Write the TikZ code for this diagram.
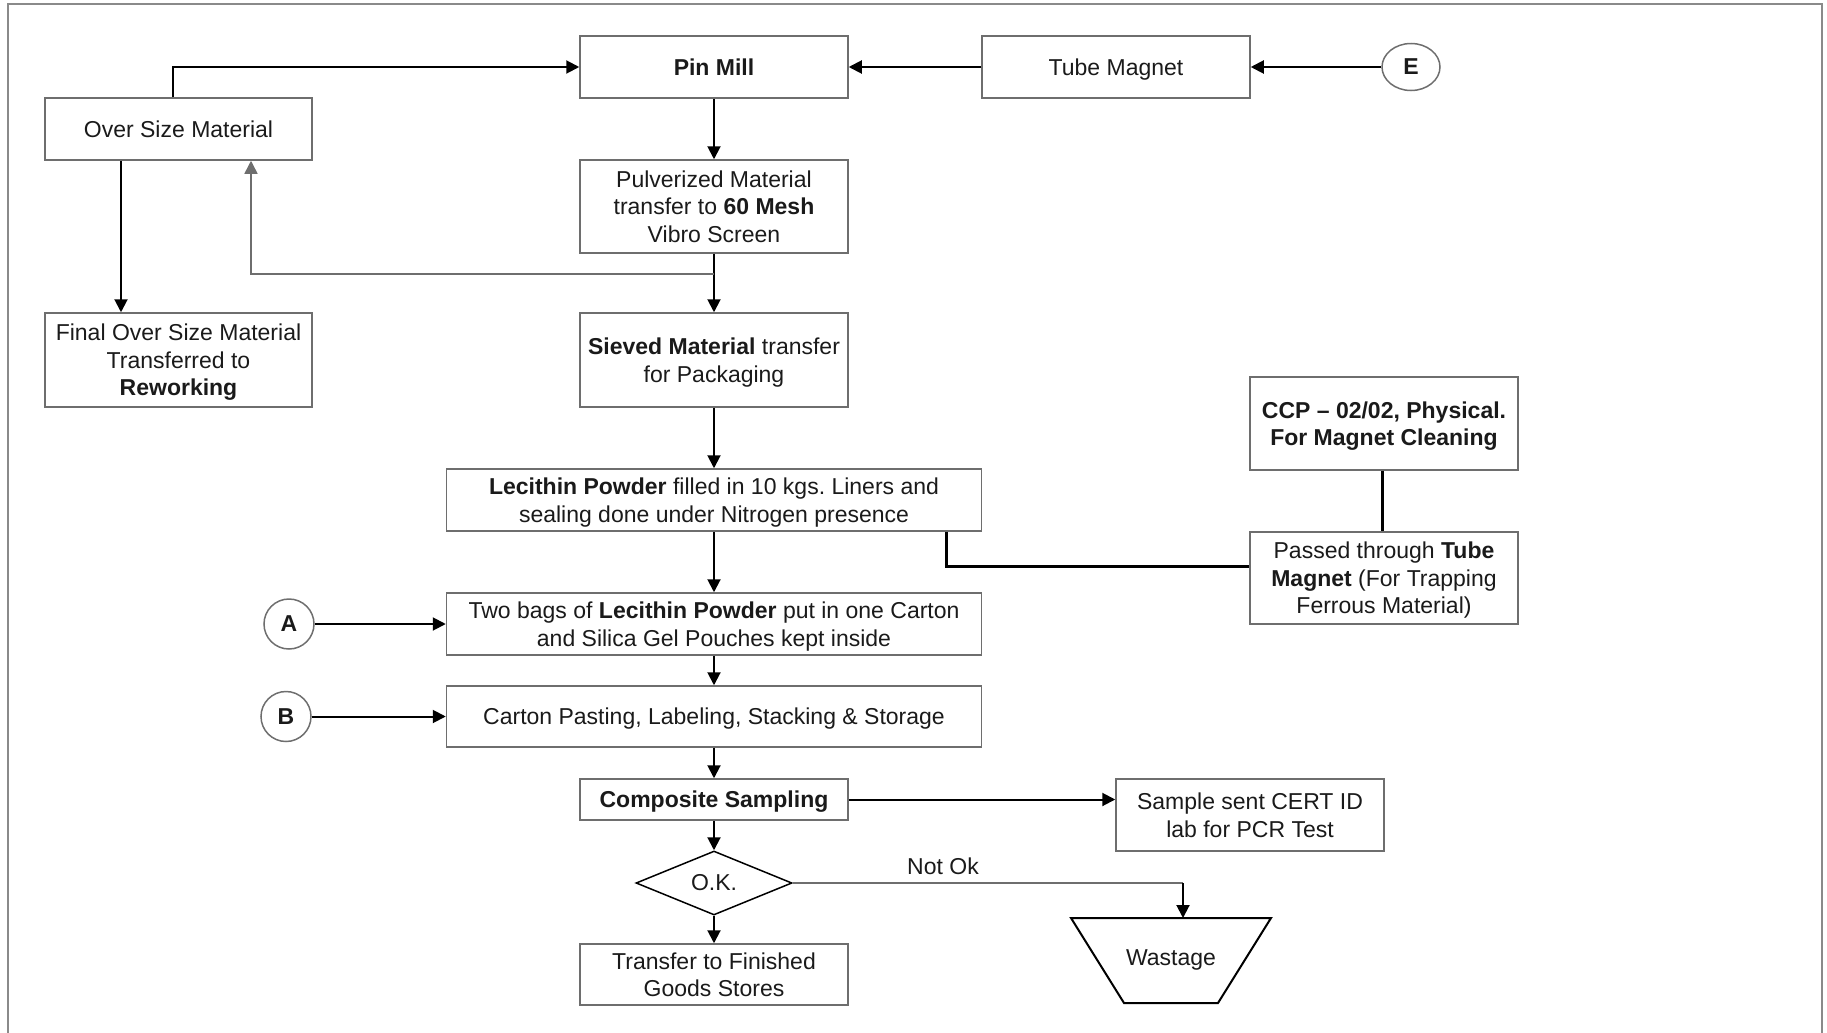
\documentclass[tikz,border=0pt]{standalone}
\usepackage{fontspec}
\setmainfont{Liberation Sans}
\usetikzlibrary{arrows.meta,shapes.geometric,calc}
\definecolor{boxline}{HTML}{6E6E6E}
\definecolor{txt}{HTML}{1A1A1A}
\definecolor{frame}{HTML}{8A8A8A}
\frenchspacing
\begin{document}
\frenchspacing
\begin{tikzpicture}[x=0.5pt,y=-0.5pt,
  font=\fontsize{11.5pt}{13.75pt}\selectfont,
  box/.style={draw=boxline,line width=0.75pt,text=txt,align=center,inner sep=0pt,minimum width=134pt,text depth=0pt},
  widebox/.style={box,minimum width=267.5pt,minimum height=31pt},
  conn/.style={draw=boxline,line width=0.75pt,text=txt,circle,inner sep=0pt,minimum size=25pt,font=\fontsize{11.5pt}{13.75pt}\selectfont\bfseries},
  arr/.style={draw=black,line width=1pt,-{Triangle[length=6.5pt,width=6.5pt]}},
  thick line/.style={draw=black,line width=1.5pt},
]
\useasboundingbox (0,0) rectangle (1827,1033);
\draw[frame,line width=1pt] (8,1033) -- (8,4) -- (1822,4) -- (1822,1033);

% nodes
\node[box,minimum height=31pt,font=\fontsize{11.5pt}{13.75pt}\selectfont\bfseries] (pin) at (714,67) {Pin Mill};
\node[box,minimum height=31pt] (tube) at (1116,67) {Tube Magnet};
\node[draw=boxline,line width=0.75pt,text=txt,ellipse,inner sep=0pt,minimum width=29pt,minimum height=23.5pt,font=\fontsize{11.5pt}{13.75pt}\selectfont\bfseries] (E) at (1411,67) {E};
\node[box,minimum width=133.5pt,minimum height=31pt] (over) at (178.5,129) {Over Size Material};
\node[box,minimum height=46.5pt] (pulv) at (714,206.5) {Pulverized Material\\transfer to \textbf{60 Mesh}\\Vibro Screen};
\node[box,minimum width=133.5pt,minimum height=47pt] (final) at (178.5,360) {Final Over Size Material\\Transferred to\\\textbf{Reworking}};
\node[box,minimum height=47pt] (sieved) at (714,360) {\textbf{Sieved Material} transfer\\for Packaging};
\node[box,minimum height=46.5pt,font=\fontsize{11.5pt}{13.75pt}\selectfont\bfseries] (ccp) at (1384,423.5) {CCP -- 02/02, Physical.\\For Magnet Cleaning};
\node[widebox] (lec) at (714,500) {\textbf{Lecithin Powder} filled in 10 kgs. Liners and\\sealing done under Nitrogen presence};
\node[box,minimum height=46pt] (passed) at (1384,578) {Passed through \textbf{Tube}\\\textbf{Magnet} (For Trapping\\Ferrous Material)};
\node[widebox] (two) at (714,624) {Two bags of \textbf{Lecithin Powder} put in one Carton\\and Silica Gel Pouches kept inside};
\node[conn] (A) at (289,624) {A};
\node[widebox,minimum height=30.5pt] (carton) at (714,716.5) {Carton Pasting, Labeling, Stacking \& Storage};
\node[conn] (B) at (286,716.5) {B};
\node[box,minimum height=20.5pt,font=\fontsize{11.5pt}{13.75pt}\selectfont\bfseries] (comp) at (714,799.5) {Composite Sampling};
\node[box,minimum height=36pt] (sample) at (1250,815) {Sample sent CERT ID\\lab for PCR Test};
\node[draw=black,line width=0.75pt,text=txt,diamond,aspect=2.44,inner sep=0pt,minimum width=78pt,minimum height=32pt] (ok) at (714,883) {O.K.};
\node[box,minimum height=30.5pt] (transfer) at (714,974.5) {Transfer to Finished\\Goods Stores};
\draw[black,line width=1pt] (1071,918) -- (1271,918) -- (1218,1003) -- (1124,1003) -- cycle;
\node[text=txt,inner sep=0pt,text depth=0pt] (waste) at (1171,958) {Wastage};
\coordinate (wtop) at (1183,918);
\node[text=txt,inner sep=0pt] (notok) at (943,866) {Not Ok};

% connectors
\draw[arr] ([xshift=-2.75pt]over.north) |- (pin.west);
\draw[arr] (pin.south) -- (pulv.north);
\draw[arr] (pulv.south) -- (sieved.north);
\coordinate (br) at (714,274);
\draw[arr,line width=0.75pt,draw=boxline] (br) -| ([xshift=36.25pt]over.south);
\draw[arr] ([xshift=-28.75pt]over.south) -- ([xshift=-28.75pt]final.north);
\draw[arr] (tube.west) -- (pin.east);
\draw[arr] (E.west) -- (tube.east);
\draw[arr] (sieved.south) -- (lec.north);
\draw[thick line] ([xshift=116pt]lec.south) |- ([yshift=6pt]passed.west);
\draw[thick line] ([xshift=-1pt]ccp.south) -- ([xshift=-1pt]passed.north);
\draw[arr] (lec.south) -- (two.north);
\draw[arr] (A.east) -- (two.west);
\draw[arr] (two.south) -- (carton.north);
\draw[arr] (B.east) -- (carton.west);
\draw[arr] (carton.south) -- (comp.north);
\draw[arr] (comp.east) -- (comp.east -| sample.west);
\draw[arr] (comp.south) -- (ok.north);
\draw[arr] (ok.south) -- (transfer.north);
\draw[draw=boxline,line width=0.75pt] (ok.east) -- (wtop |- ok.east);
\draw[arr] (wtop |- ok.east) -- (wtop);
\end{tikzpicture}
\end{document}
